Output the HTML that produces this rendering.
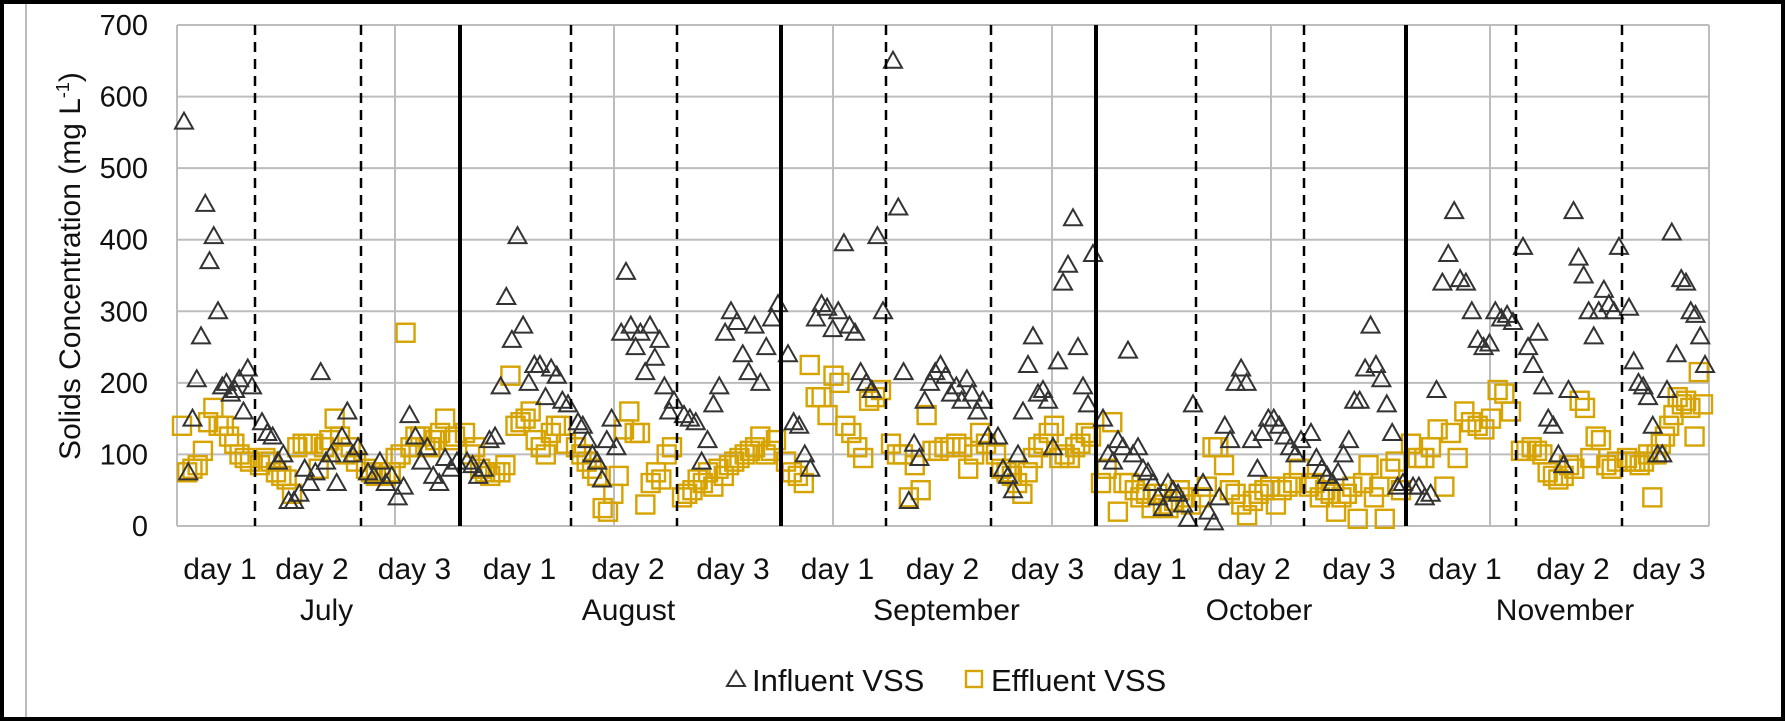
<!DOCTYPE html>
<html><head><meta charset="utf-8"><style>
html,body{margin:0;padding:0;background:#000}
svg{display:block}
text{font-family:"Liberation Sans",sans-serif;fill:#111}
</style></head><body>
<svg id="s" width="1785" height="721" xmlns="http://www.w3.org/2000/svg">
<rect x="0" y="0" width="1785" height="721" fill="#000"/>
<rect x="4" y="4" width="1777" height="713" fill="#fff"/>
<line x1="26" y1="4" x2="26" y2="717" stroke="#bbb" stroke-width="2"/>
<g id="grid" stroke="#bdbdbd" stroke-width="2"></g>
<g id="pts"></g>
<g id="lab"></g>
<text x="80" y="266" font-size="30" text-anchor="middle" transform="rotate(-90 80 266)">Solids Concentration (mg L<tspan font-size="18" dy="-11">-1</tspan><tspan dy="11">)</tspan></text>
<polygon points="736,671 727,686 745,686" fill="none" stroke="#333" stroke-width="2"/>
<text x="752" y="691" font-size="31">Influent VSS</text>
<rect x="966" y="671" width="16" height="16" fill="none" stroke="#d6a300" stroke-width="2.4"/>
<text x="991" y="691" font-size="31">Effluent VSS</text>
</svg>
<script>
const NS="http://www.w3.org/2000/svg";
function el(p,t,a,txt){const e=document.createElementNS(NS,t);for(const k in a)e.setAttribute(k,a[k]);if(txt!==undefined)e.textContent=txt;p.appendChild(e);return e;}
const g=document.getElementById('grid'),P=document.getElementById('pts'),L=document.getElementById('lab');
const L0=177,R0=1709,T0=25,B0=526;
const Y=v=>B0-v*(B0-T0)/700;
for(let v=0;v<=700;v+=100){el(g,'line',{x1:L0,x2:R0,y1:Y(v),y2:Y(v)});el(L,'text',{x:148,y:Y(v)+10,'font-size':29,'text-anchor':'end'},v);}
[177,395,614,833,1052,1271,1490,1709].forEach(x=>el(g,'line',{x1:x,x2:x,y1:T0,y2:B0}));
[460,781,1096,1406].forEach(x=>el(L,'line',{x1:x,x2:x,y1:T0,y2:B0,stroke:'#000','stroke-width':4}));
[255,361,571,677,886,991,1196,1304,1516,1622].forEach(x=>el(L,'line',{x1:x,x2:x,y1:T0,y2:B0,stroke:'#000','stroke-width':2.5,'stroke-dasharray':'10,7'}));
const segs=[[177,255],[255,361],[361,460],[460,571],[571,677],[677,781],[781,886],[886,991],[991,1096],[1096,1196],[1196,1304],[1304,1406],[1406,1516],[1516,1622],[1622,1708]];
segs.forEach((s,i)=>el(L,'text',{x:(s[0]+s[1])/2+4,y:579,'font-size':30,'text-anchor':'middle'},'day '+(i%3+1)));
const months=['July','August','September','October','November'];
months.forEach((m,i)=>{const a=segs[i*3][0],b=segs[i*3+2][1];el(L,'text',{x:(a+b)/2+8,y:620,'font-size':30,'text-anchor':'middle'},m);});
const inf=[
[565,75,150,205,265,450,370,405,300,195,200,185,190,205,160,220,195],
[145,130,125,90,100,35,35,45,80,60,75,215,90,100,60,125,160,100,110],
[75,70,90,60,70,40,55,155,125,90,110,70,60,95,80,90],
[90,85,70,80,120,125,195,320,260,405,280,200,225,225,180,220,210,175,170],
[145,140,120,100,90,65,120,150,110,270,355,280,250,270,215,280,235,260,195,160,175],
[155,150,145,90,120,170,195,270,300,285,240,215,280,200,250,290,310],
[240,145,140,100,80,290,310,305,275,300,395,280,270,215,200,190,405,300],
[650,445,215,35,115,95,175,200,215,225,210,185,195,175,205,185,160,175,125],
[125,80,70,50,100,160,225,265,185,190,175,110,230,340,365,430,250,195,170,380],
[150,100,90,120,110,245,100,110,80,75,60,40,25,60,50,45,30,10,170],
[60,20,5,40,140,120,200,220,200,120,80,130,150,150,140,125,110,100,120],
[130,95,80,70,60,75,100,120,175,175,220,280,225,205,170,130,55,60],
[55,55,40,45,190,340,380,440,345,340,300,260,250,255,300,290,295,285],
[390,250,225,270,195,150,140,100,85,190,440,375,350,300,265,300,330,310,300,390],
[305,230,200,195,180,140,100,100,190,410,240,345,340,300,295,265,225]];
const eff=[
[140,75,80,85,105,145,165,140,140,125,115,100,95,90],
[85,95,90,75,70,65,45,110,115,115,115,80,110,120,150,125,100,110,90],
[80,75,70,75,70,75,95,100,270,110,125,125,110,110,120,130,150,120,125],
[130,100,110,80,75,70,75,75,85,210,140,145,150,160,120,110,100,130,140,140,115],
[110,100,90,80,70,25,20,45,70,135,160,130,130,30,60,75,65,100,110],
[40,45,50,65,60,75,55,80,70,85,90,95,100,105,110,125,100,105,120],
[90,75,70,60,225,180,180,155,210,200,140,130,110,95,175,180,190],
[115,100,100,40,85,50,155,105,105,110,110,115,110,80,100,130,115],
[100,80,75,70,60,45,75,95,110,115,130,140,95,100,95,110,115,130,125],
[60,80,145,20,60,60,50,40,45,25,45,30,25,35,50,40,30],
[40,55,110,110,85,50,45,30,15,35,45,50,55,30,50,55,60,80],
[55,60,40,50,45,20,40,45,55,10,60,85,40,55,10,80,90,50],
[115,95,95,110,135,55,130,95,160,145,140,135,150,190,185,160],
[105,105,110,105,100,75,70,65,70,85,80,175,165,95,125,120,85,80,90],
[95,90,90,85,90,100,40,100,115,125,140,155,180,170,175,165,125,215,170]];
function xs(s,n,k){return s[0]+5+(s[1]-s[0]-10)*(n>1?k/(n-1):0.5);}
eff.forEach((arr,i)=>arr.forEach((v,k)=>{const x=xs(segs[i],arr.length,k),y=Y(v);el(P,'rect',{x:x-9,y:y-9,width:18,height:18,fill:'none',stroke:'#d6a300','stroke-width':2.4});}));
inf.forEach((arr,i)=>arr.forEach((v,k)=>{const x=xs(segs[i],arr.length,k)+2,y=Y(v);el(P,'polygon',{points:`${x},${y-9} ${x-9},${y+7} ${x+9},${y+7}`,fill:'none',stroke:'#333','stroke-width':2});}));
</script>
</body></html>
